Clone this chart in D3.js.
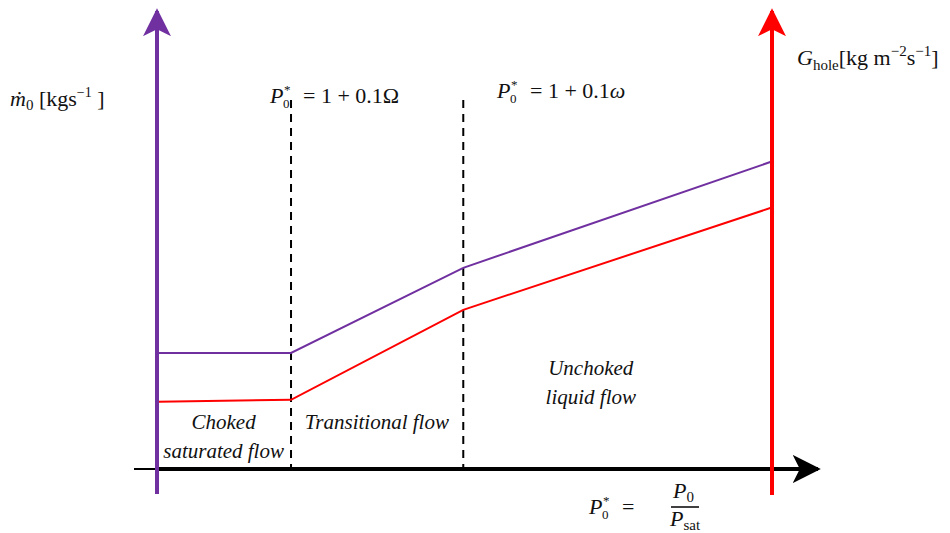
<!DOCTYPE html>
<html>
<head>
<meta charset="utf-8">
<script src="https://cdn.jsdelivr.net/npm/d3@7"></script>
<style>
  body { margin: 0; background: #fff; }
  text { font-family: 'Liberation Serif', 'DejaVu Serif', serif; fill: #111; }
</style>
</head>
<body>
<div id="chart"></div>
<script>
// regime break points along P0* (schematic units)
var xBreaks = [0, 21.7, 49.8, 100];
var massFlow = [29, 29, 50.3, 76.8];   // mdot0, purple
var holeFlux = [16.8, 17.3, 39.8, 65.3]; // G_hole, red
var regionLabels = [
  { x: 10.7, y: 10, lines: ["Choked", "saturated flow"] },
  { x: 35.7, y: 10, lines: ["Transitional flow"] },
  { x: 70.6, y: 23.4, lines: ["Unchoked", "liquid flow"] }
];

var width = 950, height = 533;
var purple = "#7030a0", red = "#ff0000";

var x = d3.scaleLinear().domain([0, 100]).range([158, 771]);
var y = d3.scaleLinear().domain([0, 100]).range([469, 69]);

var svg = d3.select("#chart").append("svg")
  .attr("width", width).attr("height", height);

var defs = svg.append("defs");
function head(id, col) {
  defs.append("marker").attr("id", id)
    .attr("viewBox", "0 0 10 10").attr("refX", 9).attr("refY", 5)
    .attr("markerWidth", 7).attr("markerHeight", 7)
    .attr("markerUnits", "strokeWidth").attr("orient", "auto")
    .append("path").attr("d", "M0,0 L10,5 L0,10 L2.5,5 Z").attr("fill", col);
}
head("hp", purple); head("hr", red); head("hk", "#000");

// dashed regime boundaries
svg.selectAll(".dash").data([xBreaks[1], xBreaks[2]]).enter().append("line")
  .attr("x1", d => x(d)).attr("x2", d => x(d))
  .attr("y1", 100).attr("y2", y(0))
  .attr("stroke", "#000").attr("stroke-width", 2)
  .attr("stroke-dasharray", "8,6");

// x axis (thin stub then thick arrow)
svg.append("line").attr("x1", 134).attr("x2", 160).attr("y1", y(0)).attr("y2", y(0))
  .attr("stroke", "#000").attr("stroke-width", 2);
svg.append("line").attr("x1", 158).attr("x2", 818).attr("y1", y(0)).attr("y2", y(0))
  .attr("stroke", "#000").attr("stroke-width", 4).attr("marker-end", "url(#hk)");

var line = d3.line().x(d => x(d[0])).y(d => y(d[1]));
svg.append("path").datum(d3.zip(xBreaks, massFlow)).attr("d", line)
  .attr("fill", "none").attr("stroke", purple).attr("stroke-width", 2);
svg.append("path").datum(d3.zip(xBreaks, holeFlux)).attr("d", line)
  .attr("fill", "none").attr("stroke", red).attr("stroke-width", 2);

// vertical axes
svg.append("line").attr("x1", 157).attr("x2", 157).attr("y1", 494).attr("y2", 11)
  .attr("stroke", purple).attr("stroke-width", 4).attr("marker-end", "url(#hp)");
svg.append("line").attr("x1", 772).attr("x2", 772).attr("y1", 495).attr("y2", 11)
  .attr("stroke", red).attr("stroke-width", 4).attr("marker-end", "url(#hr)");

// region labels
regionLabels.forEach(function (r) {
  var t = svg.append("text").attr("text-anchor", "middle")
    .attr("font-style", "italic").attr("font-size", 21);
  r.lines.forEach(function (s, i) {
    t.append("tspan").attr("x", x(r.x)).attr("y", y(r.y) + i * 29).text(s);
  });
});

// axis labels
var fs = 22;
var t1 = svg.append("text").attr("x", 10).attr("y", 106).attr("font-size", fs);
t1.append("tspan").attr("font-style", "italic").text("ṁ");
t1.append("tspan").attr("font-size", 15).attr("dy", 4).text("0");
t1.append("tspan").attr("dy", -4).text("\u00a0[kgs");
t1.append("tspan").attr("font-size", 14).attr("dy", -9).text("−1");
t1.append("tspan").attr("dy", 9).text("\u00a0]");

// P with stacked * and 0 drawn as separate texts
function pstar(xp, yp, rest) {
  svg.append("text").attr("x", xp).attr("y", yp).attr("font-size", fs)
    .attr("font-style", "italic").text("P");
  svg.append("text").attr("x", xp + 14).attr("y", yp - 9).attr("font-size", 13).text("*");
  svg.append("text").attr("x", xp + 13).attr("y", yp + 5).attr("font-size", 13).text("0");
  var t = svg.append("text").attr("x", xp + 33).attr("y", yp).attr("font-size", fs);
  t.append("tspan").text(rest[0]);
  if (rest[1]) t.append("tspan").attr("font-style", "italic").text(rest[1]);
}
pstar(270, 103, ["= 1 + 0.1Ω"]);
pstar(497, 98, ["= 1 + 0.1", "ω"]);

var t2 = svg.append("text").attr("x", 797).attr("y", 65).attr("font-size", fs);
t2.append("tspan").attr("font-style", "italic").text("G");
t2.append("tspan").attr("font-size", 15).attr("dy", 5).text("hole");
t2.append("tspan").attr("dy", -5).text("[kg m");
t2.append("tspan").attr("font-size", 15).attr("dy", -9).text("−2");
t2.append("tspan").attr("dy", 9).text("s");
t2.append("tspan").attr("font-size", 15).attr("dy", -9).text("−1");
t2.append("tspan").attr("dy", 9).text("]");

// P0* = P0 / Psat
pstar(589, 514, ["="]);
svg.append("line").attr("x1", 671).attr("x2", 699).attr("y1", 507).attr("y2", 507)
  .attr("stroke", "#000").attr("stroke-width", 1.5);
var num = svg.append("text").attr("x", 673).attr("y", 498).attr("font-size", fs);
num.append("tspan").attr("font-style", "italic").text("P");
num.append("tspan").attr("font-size", 15).attr("dy", 4).text("0");
var den = svg.append("text").attr("x", 670).attr("y", 526).attr("font-size", fs);
den.append("tspan").attr("font-style", "italic").text("P");
den.append("tspan").attr("font-size", 15).attr("dy", 4).text("sat");
</script>
</body>
</html>
